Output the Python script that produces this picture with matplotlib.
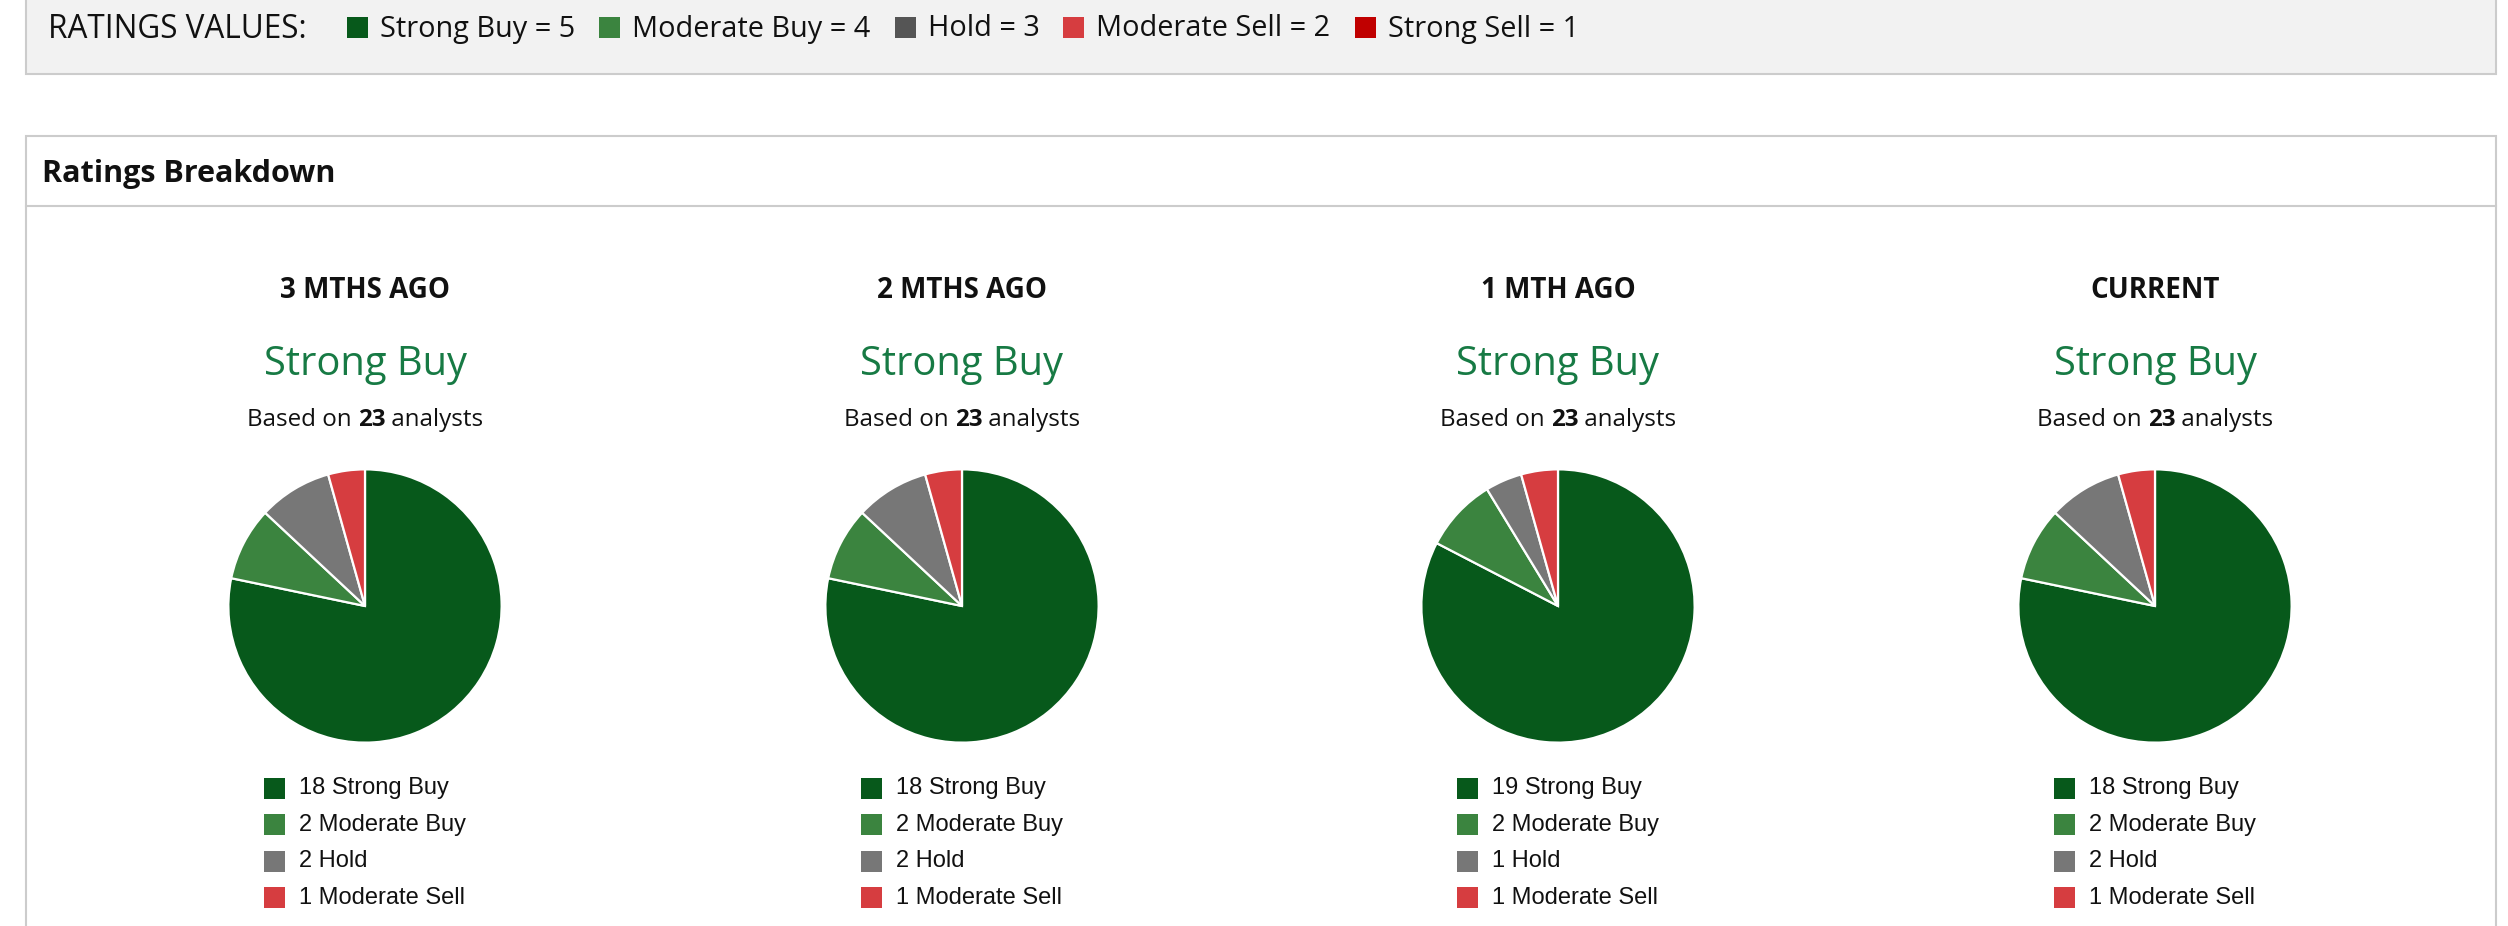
import matplotlib
matplotlib.use("Agg")
import matplotlib.pyplot as plt
from matplotlib.patches import Rectangle

W, H = 2508, 926

# ---- data ----
periods = ["3 MTHS AGO", "2 MTHS AGO", "1 MTH AGO", "CURRENT"]
consensus = ["Strong Buy", "Strong Buy", "Strong Buy", "Strong Buy"]
categories = ["Strong Buy", "Moderate Buy", "Hold", "Moderate Sell", "Strong Sell"]
rating_values = [5, 4, 3, 2, 1]
strong_buy = [18, 18, 19, 18]
moderate_buy = [2, 2, 2, 2]
hold = [2, 2, 1, 2]
moderate_sell = [1, 1, 1, 1]
strong_sell = [0, 0, 0, 0]

# ---- style ----
PIE_COLORS = ["#07591b", "#3b843f", "#777777", "#d63d40", "#c00000"]
KEY_COLORS = ["#07591b", "#3b843f", "#555555", "#d63d40", "#c00000"]
CONSENSUS_GREEN = "#177a44"
BORDER = "#cccccc"
MAIN_FONT = ["Open Sans", "DejaVu Sans"]
LEGEND_FONT = ["Liberation Sans", "DejaVu Sans"]

fig = plt.figure(figsize=(W / 100, H / 100), dpi=100)
fig.patch.set_facecolor("white")
bg = fig.add_axes([0, 0, 1, 1])
bg.set_xlim(0, W)
bg.set_ylim(H, 0)
bg.axis("off")
renderer = fig.canvas.get_renderer()

# top key box
bg.add_patch(Rectangle((26, -10), 2470, 84, facecolor="#f2f2f2",
                       edgecolor=BORDER, linewidth=1.5))
bg.text(48, 29, "RATINGS VALUES:", fontsize=22.7, family=MAIN_FONT,
        va="center", ha="left", color="#111111")
x = 347
for name, val, col in zip(categories, rating_values, KEY_COLORS):
    bg.add_patch(Rectangle((x, 17), 21, 21, facecolor=col, edgecolor="none"))
    t = bg.text(x + 33, 29, f"{name} = {val}", fontsize=20.8, family=MAIN_FONT,
                va="center", ha="left", color="#111111")
    x = x + 33 + t.get_window_extent(renderer).width + 24

# breakdown panel
bg.add_patch(Rectangle((26, 136), 2470, 800, facecolor="white",
                       edgecolor=BORDER, linewidth=1.5))
bg.plot([26, 2496], [206, 206], color=BORDER, linewidth=1.5)
bg.text(42, 174, "Ratings Breakdown", fontsize=22, family=MAIN_FONT,
        weight="bold", va="center", ha="left", color="#111111")

centers = [365, 962, 1558, 2155]
R = 138
PIE_CY = 606
counts = list(zip(strong_buy, moderate_buy, hold, moderate_sell, strong_sell))

for i, cx in enumerate(centers):
    vals = counts[i]
    total = sum(vals)
    bg.text(cx, 291, periods[i], fontsize=20, family=MAIN_FONT, weight="bold",
            ha="center", va="center", color="#111111")
    bg.text(cx, 365, consensus[i], fontsize=28.7, family=MAIN_FONT,
            ha="center", va="center", color=CONSENSUS_GREEN)

    # "Based on <b>23</b> analysts"
    parts = [("Based on ", "normal"), (str(total), "bold"), (" analysts", "normal")]
    texts = [bg.text(0, 420, s, fontsize=17.4, family=MAIN_FONT, weight=w,
                     ha="left", va="center", color="#111111") for s, w in parts]
    widths = [t.get_window_extent(renderer).width for t in texts]
    xx = cx - sum(widths) / 2
    for t, w in zip(texts, widths):
        t.set_x(xx)
        xx += w

    ax = fig.add_axes([(cx - R) / W, 1 - (PIE_CY + R) / H, 2 * R / W, 2 * R / H])
    nz = [(v, c) for v, c in zip(vals, PIE_COLORS) if v > 0]
    ax.pie([v for v, _ in nz], colors=[c for _, c in nz], startangle=90,
           counterclock=False, radius=1,
           wedgeprops=dict(edgecolor="white", linewidth=1.6))
    ax.set_xlim(-1.01, 1.01)
    ax.set_ylim(-1.01, 1.01)
    ax.axis("off")

    # per-chart legend
    ly = 788
    for v, name, col in zip(vals, categories, PIE_COLORS):
        if v == 0:
            continue
        bg.add_patch(Rectangle((cx - 101, ly - 10.5), 21, 21, facecolor=col,
                               edgecolor="none"))
        bg.text(cx - 66, ly, f"{v} {name}", fontsize=17, family=LEGEND_FONT,
                ha="left", va="center", color="#111111")
        ly += 36.5

fig.savefig("out.png", dpi=100, facecolor="white")
